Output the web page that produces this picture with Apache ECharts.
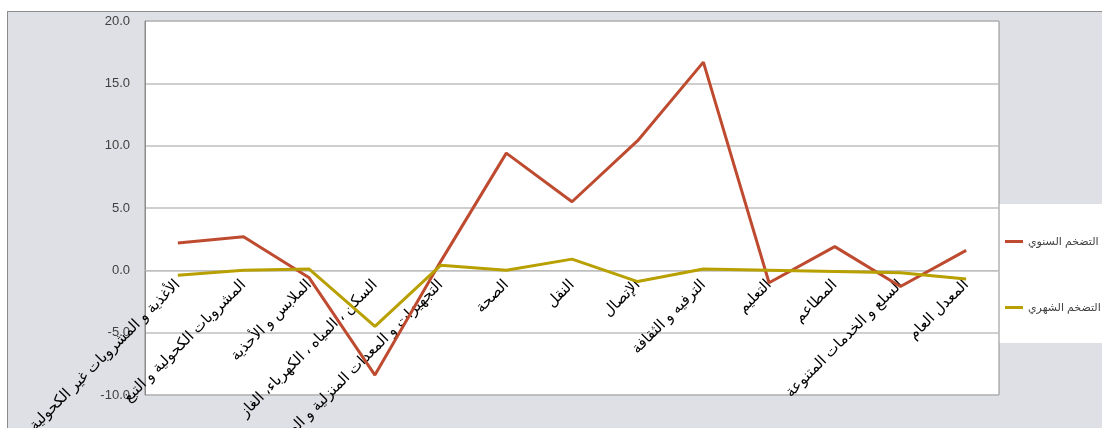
<!DOCTYPE html>
<html>
<head>
<meta charset="utf-8">
<script src="https://cdn.jsdelivr.net/npm/echarts@6/dist/echarts.min.js"></script>
<style>
  html, body { margin: 0; padding: 0; background: #ffffff; }
  #frame { position: absolute; left: 7px; top: 11px; width: 1095px; height: 417px; background: #dfe0e5; border-top: 1px solid #8c8c8c; border-left: 1px solid #8c8c8c; box-sizing: border-box; }
  #chart { position: absolute; left: 0; top: 0; width: 1102px; height: 428px; }
</style>
</head>
<body>
<div id="frame"></div>
<div id="chart"></div>
<script>
const categories = [
  'الأغذية و المشروبات غير الكحولية',
  'المشروبات الكحولية و التبغ',
  'الملابس و الأحذية',
  'السكن ، المياه ، الكهرباء، الغاز',
  'التجهيزات و المعدات المنزلية و الصيانة',
  'الصحة',
  'النقل',
  'الإتصال',
  'الترفيه و الثقافة',
  'التعليم',
  'المطاعم',
  'السلع و الخدمات المتنوعة',
  'المعدل العام'
];
const annualName = 'التضخم السنوي';
const monthlyName = 'التضخم الشهري';
const annualInflation = [2.2, 2.7, -0.6, -8.4, 0.7, 9.4, 5.5, 10.4, 16.7, -1.0, 1.9, -1.3, 1.6];
const monthlyInflation = [-0.4, 0.0, 0.1, -4.5, 0.4, 0.0, 0.9, -0.9, 0.1, 0.0, -0.1, -0.2, -0.7];
const yTicks = { min: -10, max: 20, interval: 5 };

const GRID_TOP = 21, GRID_BOTTOM = 33, H = 428;
const plotH = H - GRID_TOP - GRID_BOTTOM;
// shift the category axis up to the value 0 (axis crosses at zero)
const zeroOffset = -plotH * (0 - yTicks.min) / (yTicks.max - yTicks.min);

const chart = echarts.init(document.getElementById('chart'), null, { renderer: 'canvas' });
const FONT = 'Liberation Sans, Arial, DejaVu Sans, sans-serif';
chart.setOption({
  backgroundColor: 'transparent',
  animation: false,
  textStyle: { fontFamily: FONT },
  graphic: [{
    type: 'rect', z: -10, silent: true,
    shape: { x: 999, y: 204, width: 103, height: 139 },
    style: { fill: '#ffffff' }
  }],
  grid: {
    left: 145, right: 103, top: GRID_TOP, bottom: GRID_BOTTOM,
    containLabel: false, outerBoundsMode: 'none',
    show: true, backgroundColor: '#ffffff', borderColor: '#8c8c8c', borderWidth: 1
  },
  legend: {
    orient: 'vertical',
    left: 1000, top: 231,
    itemGap: 55,
    itemWidth: 18, itemHeight: 3,
    icon: 'rect',
    textStyle: { fontSize: 11, color: '#404040', fontFamily: FONT },
    data: [annualName, monthlyName]
  },
  xAxis: {
    type: 'category',
    data: categories,
    boundaryGap: true,
    position: 'bottom',
    offset: zeroOffset,
    axisLine: { show: true, onZero: false, lineStyle: { color: '#bfbfbf', width: 1 } },
    axisTick: { show: false },
    axisLabel: { interval: 0, rotate: 45, margin: 12, fontSize: 15, color: '#000', fontFamily: FONT, hideOverlap: false }
  },
  yAxis: {
    type: 'value',
    min: yTicks.min, max: yTicks.max, interval: yTicks.interval,
    axisLine: { show: true, onZero: false, lineStyle: { color: '#8c8c8c' } },
    axisTick: { show: false },
    splitLine: { lineStyle: { color: '#bfbfbf', width: 1.5 } },
    axisLabel: { margin: 15, fontSize: 13, color: '#404040', fontFamily: FONT, formatter: v => v.toFixed(1) }
  },
  series: [
    { name: annualName, type: 'line', data: annualInflation, showSymbol: false, symbol: 'none',
      lineStyle: { color: '#be4b30', width: 3 }, itemStyle: { color: '#be4b30' } },
    { name: monthlyName, type: 'line', data: monthlyInflation, showSymbol: false, symbol: 'none',
      lineStyle: { color: '#b8a000', width: 3 }, itemStyle: { color: '#b8a000' } }
  ]
});
</script>
</body>
</html>
